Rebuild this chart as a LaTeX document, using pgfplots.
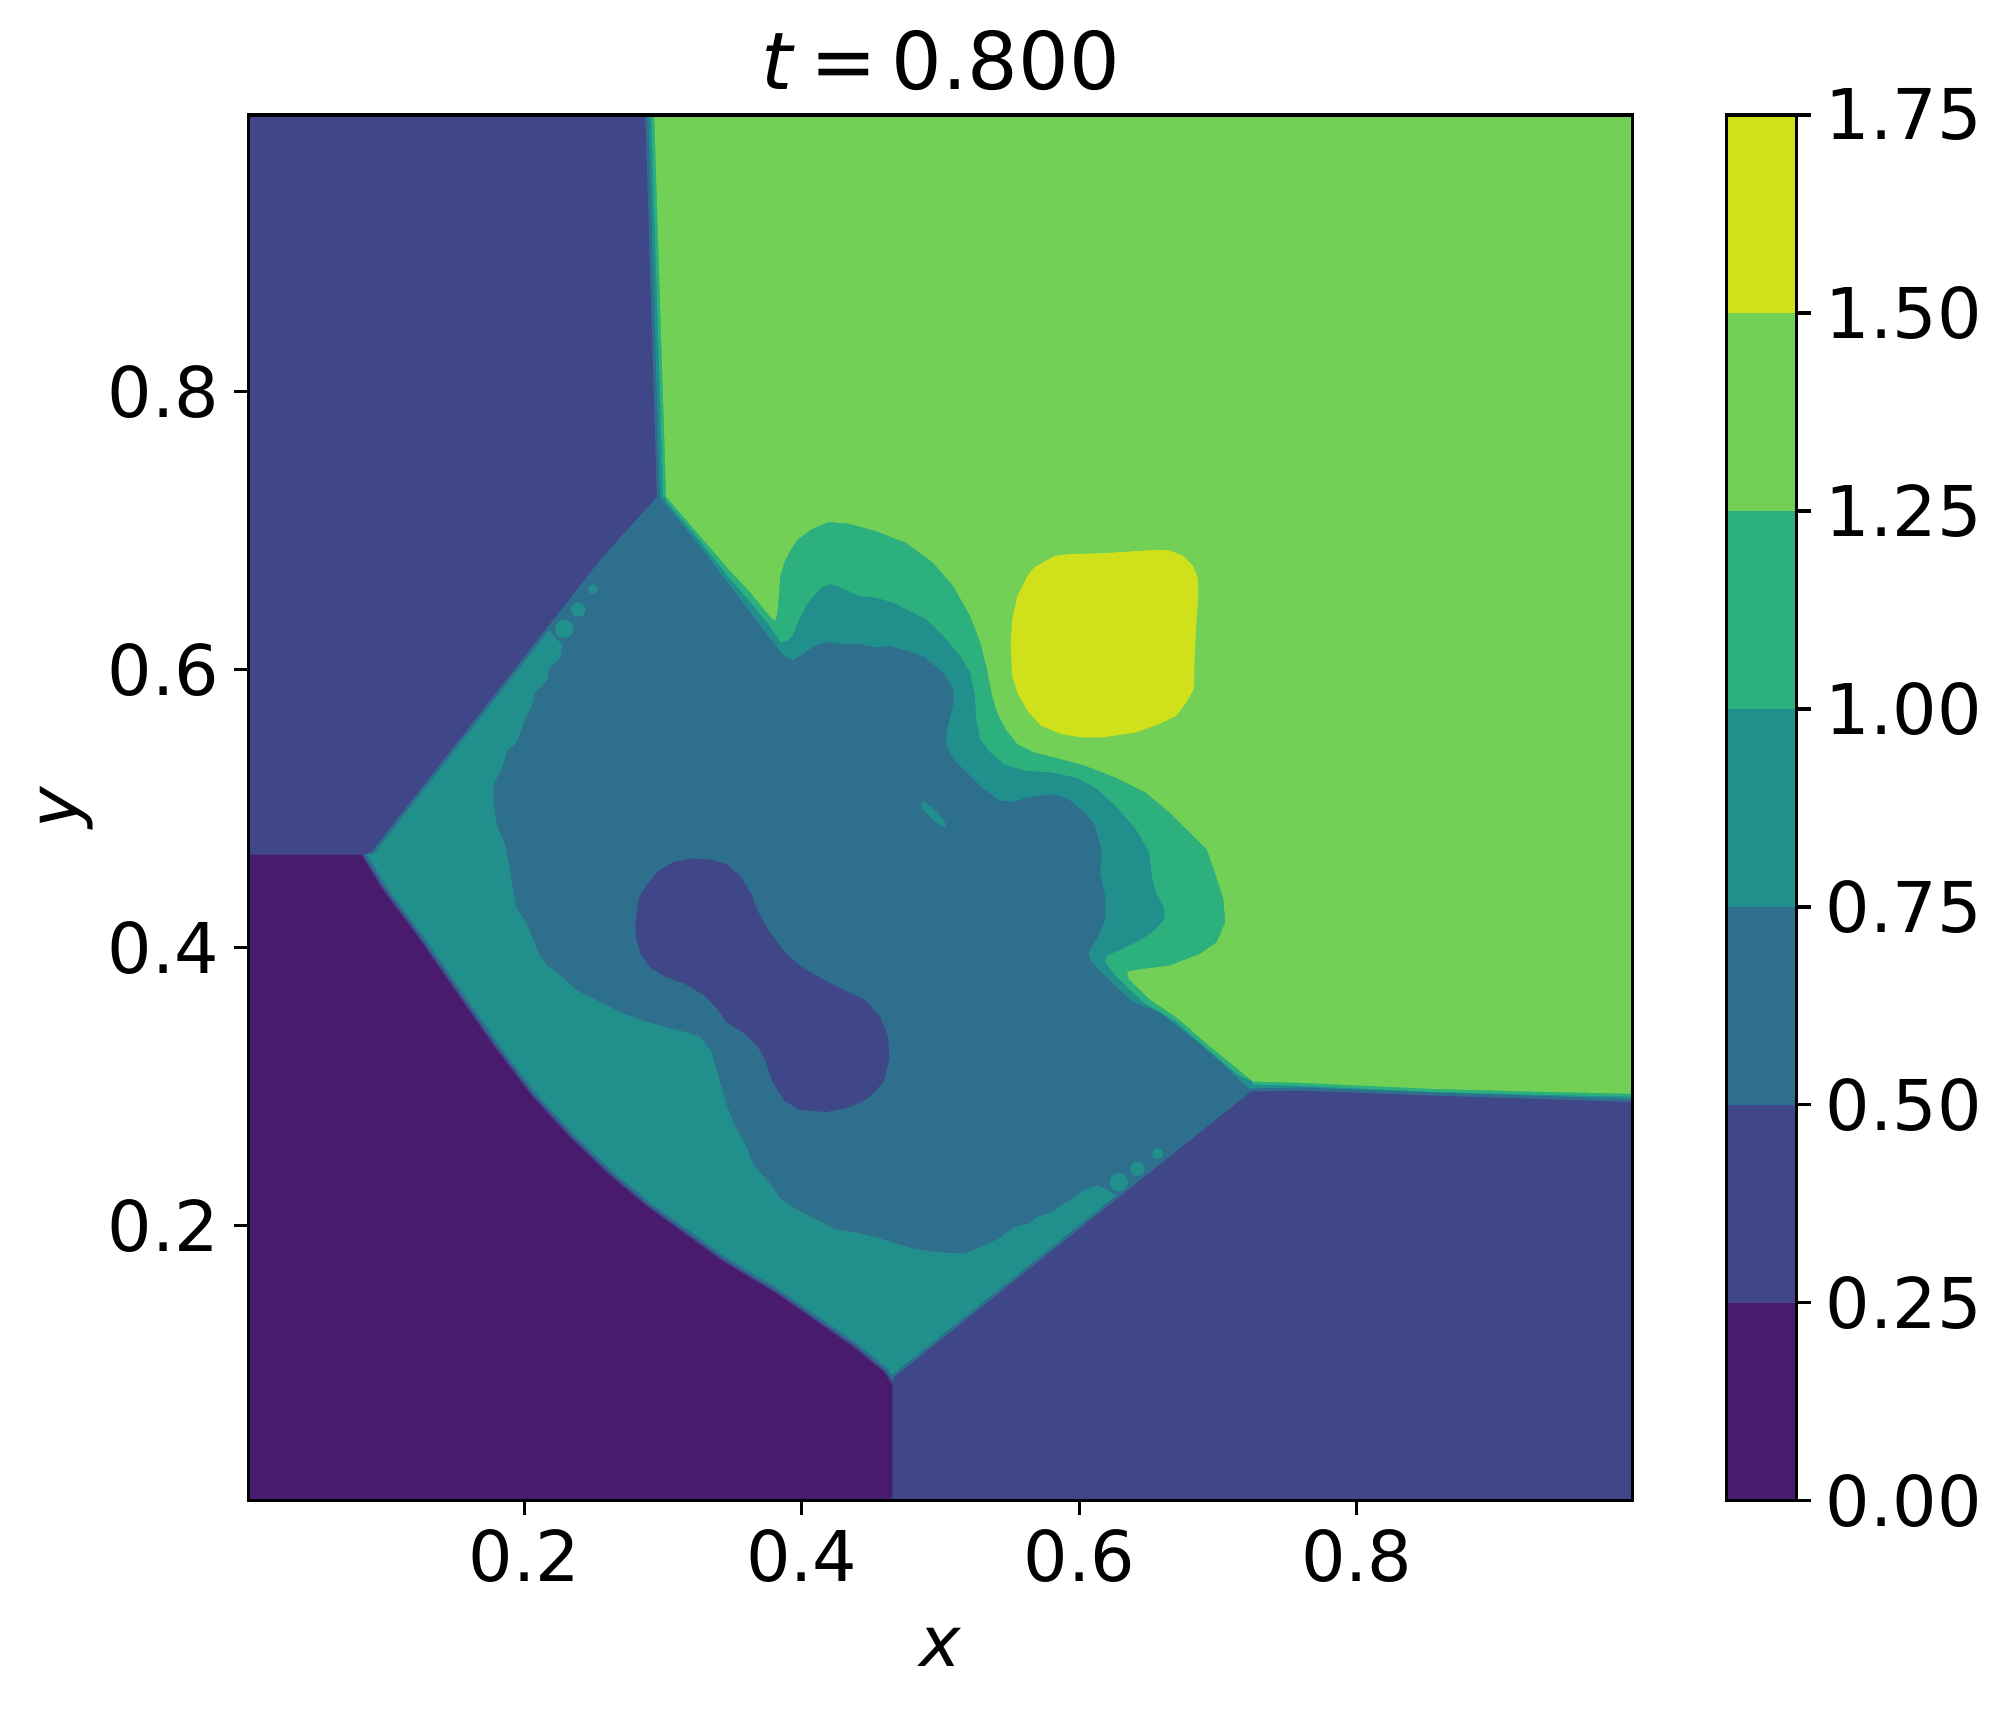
\documentclass[border=0pt]{standalone}
\usepackage{fontspec}
\setmainfont{DejaVu Sans}
\usepackage{pgfplots}
\pgfplotsset{compat=1.18}

% viridis, 7 bands of 0.25
\definecolor{c1}{HTML}{481B6D}
\definecolor{c2}{HTML}{3F4788}
\definecolor{c3}{HTML}{2E6F8E}
\definecolor{c4}{HTML}{21908D}
\definecolor{c5}{HTML}{2CB17E}
\definecolor{c6}{HTML}{73D056}
\definecolor{c7}{HTML}{D0E11C}

\newcommand{\tickfont}{\fontsize{16.8}{20}\selectfont}

\begin{document}
\begin{tikzpicture}
\useasboundingbox (-59.6pt,-49.9pt) rectangle (421.4pt,360.2pt);
\begin{axis}[
    at={(0pt,0pt)}, anchor=south west,
    scale only axis, width=332.3pt, height=332.6pt,
    xmin=0.001, xmax=0.999, ymin=0.002, ymax=0.999,
    xtick={0.2,0.4,0.6,0.8}, ytick={0.2,0.4,0.6,0.8},
    xticklabels={0.2,0.4,0.6,0.8}, yticklabels={0.2,0.4,0.6,0.8},
    tick align=outside, xtick pos=left, ytick pos=left,
    major tick length=3.5pt,
    every tick/.style={black, line width=0.8pt},
    axis line style={line width=0.8pt},
    axis on top,
    tick label style={font=\tickfont},
    /pgf/number format/assume math mode=true,
    xlabel={\textit{x}}, ylabel={\textit{y}},
    label style={font=\tickfont},
    xlabel style={at={(axis description cs:0.5,-0.1197)}, anchor=base},
    ylabel style={at={(axis description cs:-0.1228,0.5)}, anchor=base},
    title={\textit{t}\hspace{0.19em}=\hspace{0.19em}0.800},
    title style={font=\fontsize{19.1}{23}\selectfont, at={(axis description cs:0.5,1.0)}, anchor=base},
]

% background band 0.75-1.00
\addplot[fill=c4, draw=none] coordinates {(0,0) (1,0) (1,1) (0,1)} -- cycle;

% band 1.00-1.25 (swirl)
\addplot[fill=c5, draw=none] coordinates {
(0.3022,0.7243) (0.3287,0.6937) (0.3483,0.6710) (0.3630,0.6554) (0.3727,0.6434)
(0.3788,0.6362) (0.3812,0.6358) (0.3824,0.6410) (0.3837,0.6554) (0.3844,0.6674)
(0.3873,0.6770) (0.3922,0.6866) (0.3971,0.6937) (0.4068,0.7009) (0.4190,0.7062)
(0.4336,0.7050) (0.4531,0.6997) (0.4750,0.6913) (0.4945,0.6770) (0.5091,0.6602)
(0.5213,0.6386) (0.5286,0.6195) (0.5335,0.6003) (0.5372,0.5811) (0.5408,0.5691)
(0.5469,0.5572) (0.5554,0.5464) (0.5676,0.5404) (0.5822,0.5368) (0.6041,0.5308)
(0.6260,0.5224) (0.6479,0.5116) (0.6650,0.4972) (0.6820,0.4805) (0.6917,0.4709)
(0.6978,0.4541) (0.7039,0.4349) (0.7052,0.4182) (0.6991,0.4038) (0.6869,0.3954)
(0.6650,0.3870) (0.6455,0.3846) (0.6345,0.3827) (0.6357,0.3774) (0.6430,0.3702)
(0.6503,0.3631) (0.6714,0.3487) (0.6934,0.3295) (0.7252,0.3036)
(0.50,0.40) (0.30,0.55)} -- cycle;

% band 0.75-1.00 inside the swirl
\addplot[fill=c4, draw=none] coordinates {
(0.2995,0.7243) (0.3255,0.6937) (0.3483,0.6650) (0.3630,0.6482) (0.3751,0.6338)
(0.3824,0.6230) (0.3849,0.6195) (0.3897,0.6207) (0.3934,0.6243) (0.3971,0.6338)
(0.4044,0.6482) (0.4141,0.6590) (0.4214,0.6614) (0.4312,0.6578) (0.4409,0.6530)
(0.4531,0.6518) (0.4653,0.6482) (0.4774,0.6422) (0.4896,0.6362) (0.5018,0.6243)
(0.5140,0.6099) (0.5213,0.5979) (0.5249,0.5811) (0.5257,0.5643) (0.5286,0.5500)
(0.5359,0.5404) (0.5456,0.5320) (0.5602,0.5272) (0.5797,0.5260) (0.5968,0.5224)
(0.6114,0.5152) (0.6260,0.5020) (0.6406,0.4853) (0.6504,0.4685) (0.6528,0.4493)
(0.6552,0.4397) (0.6613,0.4278) (0.6613,0.4206) (0.6552,0.4134) (0.6455,0.4062)
(0.6309,0.3990) (0.6199,0.3942) (0.6187,0.3894) (0.6260,0.3798) (0.6357,0.3702)
(0.6455,0.3611) (0.6697,0.3465) (0.6917,0.3273) (0.7232,0.3010)
(0.50,0.40) (0.30,0.55)} -- cycle;

% band 0.50-0.75, interior
\addplot[fill=c3, draw=none] coordinates {
(0.2975,0.7243) (0.2940,0.7275) (0.2520,0.6810) (0.2150,0.6340) (0.2218,0.6233)
(0.2273,0.6183) (0.2259,0.6084) (0.2176,0.6001) (0.2163,0.5919) (0.2080,0.5836)
(0.2052,0.5737) (0.2011,0.5655) (0.1970,0.5539) (0.1942,0.5473) (0.1873,0.5407)
(0.1832,0.5275) (0.1777,0.5176) (0.1777,0.5044) (0.1804,0.4879) (0.1859,0.4747)
(0.1887,0.4615) (0.1914,0.4450) (0.1942,0.4285) (0.2011,0.4186) (0.2052,0.4087)
(0.2107,0.3955) (0.2163,0.3872) (0.2273,0.3790) (0.2383,0.3691) (0.2549,0.3608)
(0.2714,0.3526) (0.2852,0.3476) (0.3017,0.3427) (0.3155,0.3394) (0.3265,0.3361)
(0.3350,0.3247) (0.3405,0.3055) (0.3460,0.2864) (0.3516,0.2720) (0.3598,0.2576)
(0.3653,0.2432) (0.3764,0.2312) (0.3846,0.2193) (0.3957,0.2121) (0.4094,0.2049)
(0.4232,0.1977) (0.4370,0.1953) (0.4536,0.1917) (0.4646,0.1881) (0.4811,0.1833)
(0.4977,0.1809) (0.5170,0.1797) (0.5253,0.1833) (0.5418,0.1905) (0.5528,0.1989)
(0.5639,0.2013) (0.5694,0.2061) (0.5804,0.2097) (0.5887,0.2157) (0.5969,0.2205)
(0.6052,0.2265) (0.6135,0.2289) (0.6190,0.2265) (0.6250,0.2225) (0.6330,0.2200)
(0.7250,0.2950) (0.7225,0.2985) (0.7183,0.3019) (0.7072,0.3127) (0.6852,0.3319)
(0.6576,0.3535) (0.6382,0.3611) (0.6284,0.3702) (0.6187,0.3798) (0.6089,0.3894)
(0.6065,0.3966) (0.6126,0.4062) (0.6187,0.4206) (0.6187,0.4373) (0.6150,0.4541)
(0.6163,0.4685) (0.6138,0.4781) (0.6114,0.4877) (0.6041,0.4973) (0.5919,0.5068)
(0.5822,0.5104) (0.5627,0.5080) (0.5529,0.5049) (0.5432,0.5056) (0.5310,0.5140)
(0.5188,0.5260) (0.5091,0.5356) (0.5042,0.5452) (0.5042,0.5524) (0.5054,0.5596)
(0.5079,0.5691) (0.5096,0.5787) (0.5091,0.5859) (0.5018,0.5979) (0.4945,0.6039)
(0.4872,0.6099) (0.4750,0.6135) (0.4628,0.6171) (0.4531,0.6159) (0.4409,0.6183)
(0.4287,0.6183) (0.4190,0.6199) (0.4092,0.6171) (0.4007,0.6111) (0.3934,0.6063)
(0.3873,0.6099) (0.3776,0.6218) (0.3630,0.6410) (0.3483,0.6602) (0.3226,0.6937)
} -- cycle;

% band 0.25-0.50, dumbbell
\addplot[fill=c2, draw=none] coordinates {
(0.2797,0.4153) (0.2824,0.4351) (0.2879,0.4450) (0.2962,0.4549) (0.3072,0.4615)
(0.3210,0.4642) (0.3348,0.4632) (0.3459,0.4599) (0.3555,0.4516) (0.3638,0.4384)
(0.3679,0.4269) (0.3762,0.4120) (0.3872,0.3972) (0.3982,0.3873) (0.4148,0.3774)
(0.4313,0.3691) (0.4451,0.3625) (0.4561,0.3509) (0.4622,0.3361) (0.4630,0.3196)
(0.4589,0.3031) (0.4478,0.2915) (0.4341,0.2849) (0.4175,0.2816) (0.3982,0.2833)
(0.3872,0.2899) (0.3789,0.3031) (0.3734,0.3196) (0.3679,0.3295) (0.3569,0.3394)
(0.3459,0.3460) (0.3390,0.3559) (0.3293,0.3658) (0.3155,0.3740) (0.3017,0.3790)
(0.2907,0.3856) (0.2838,0.3955) (0.2810,0.4054)} -- cycle;

% small islands of 0.75-1.00
\addplot[fill=c4, draw=none] coordinates {
(0.4859,0.5044) (0.4885,0.5050) (0.4960,0.4990) (0.5030,0.4905) (0.5042,0.4864)
(0.5020,0.4865) (0.4940,0.4925) (0.4870,0.5000)} -- cycle;
\addplot[only marks, mark=*, mark size=0.95pt, color=c4] coordinates {(0.2493,0.6579)};
\addplot[only marks, mark=*, mark size=1.5pt, color=c4] coordinates {(0.2389,0.6431) (0.6419,0.2408)};
\addplot[only marks, mark=*, mark size=2.0pt, color=c4] coordinates {(0.2287,0.6292) (0.6286,0.2312)};
\addplot[only marks, mark=*, mark size=1.1pt, color=c4] coordinates {(0.6565,0.2516)};

% thin transition bands along the shocks
\addplot[c5, line width=1.44pt, line join=round] coordinates {(0.2936,1.0) (0.3022,0.7243)};
\addplot[c5, line width=1.44pt, line join=round] coordinates {
(0.7252,0.3036) (0.7590,0.3027) (0.8550,0.2983) (0.9271,0.2964) (1.0,0.2948)};
\addplot[c3, line width=1.5pt, line join=round] coordinates {
(0.2871,1.0) (0.2955,0.7243) (0.2547,0.6790) (0.0889,0.4679)};
\addplot[c3, line width=1.5pt, line join=round] coordinates {
(0.4654,0.0899) (0.7238,0.2964) (0.7590,0.2971) (0.8550,0.2935) (0.9271,0.2912) (1.0,0.2888)};
\addplot[c3, line width=2.4pt, line join=round] coordinates {
(0.0825,0.4666) (0.0977,0.4417) (0.1225,0.4087) (0.1501,0.3691) (0.1777,0.3295)
(0.2053,0.2932) (0.2328,0.2635) (0.2604,0.2371) (0.2880,0.2140) (0.3155,0.1942)
(0.3431,0.1743) (0.3818,0.1510) (0.4094,0.1318) (0.4370,0.1127) (0.4591,0.0947) (0.4654,0.0851)};
\addplot[c2, line width=0.96pt, line join=round] coordinates {
(0.0825,0.4666) (0.0977,0.4417) (0.1225,0.4087) (0.1501,0.3691) (0.1777,0.3295)
(0.2053,0.2932) (0.2328,0.2635) (0.2604,0.2371) (0.2880,0.2140) (0.3155,0.1942)
(0.3431,0.1743) (0.3818,0.1510) (0.4094,0.1318) (0.4370,0.1127) (0.4591,0.0947) (0.4654,0.0851)};

% band 1.25-1.50, upper right
\addplot[fill=c6, draw=none] coordinates {
(0.2936,1.0) (0.3022,0.7243) (0.3287,0.6937) (0.3483,0.6710) (0.3630,0.6554) (0.3727,0.6434)
(0.3788,0.6362) (0.3812,0.6358) (0.3824,0.6410) (0.3837,0.6554) (0.3844,0.6674)
(0.3873,0.6770) (0.3922,0.6866) (0.3971,0.6937) (0.4068,0.7009) (0.4190,0.7062)
(0.4336,0.7050) (0.4531,0.6997) (0.4750,0.6913) (0.4945,0.6770) (0.5091,0.6602)
(0.5213,0.6386) (0.5286,0.6195) (0.5335,0.6003) (0.5372,0.5811) (0.5408,0.5691)
(0.5469,0.5572) (0.5554,0.5464) (0.5676,0.5404) (0.5822,0.5368) (0.6041,0.5308)
(0.6260,0.5224) (0.6479,0.5116) (0.6650,0.4972) (0.6820,0.4805) (0.6917,0.4709)
(0.6978,0.4541) (0.7039,0.4349) (0.7052,0.4182) (0.6991,0.4038) (0.6869,0.3954)
(0.6650,0.3870) (0.6455,0.3846) (0.6345,0.3827) (0.6357,0.3774) (0.6430,0.3702)
(0.6503,0.3631) (0.6714,0.3487) (0.6934,0.3295) (0.7252,0.3036)
(0.7590,0.3027) (0.8550,0.2983) (0.9271,0.2964) (1.0,0.2948) (1.0,1.0)} -- cycle;

% band 1.50-1.75
\addplot[fill=c7, draw=none] coordinates {
(0.5505,0.6171) (0.5517,0.6362) (0.5554,0.6530) (0.5627,0.6674) (0.5676,0.6734)
(0.5822,0.6818) (0.5919,0.6830) (0.6163,0.6837) (0.6309,0.6846) (0.6552,0.6861)
(0.6650,0.6858) (0.6747,0.6818) (0.6820,0.6746) (0.6857,0.6650) (0.6857,0.6530)
(0.6844,0.6338) (0.6832,0.6099) (0.6825,0.5859) (0.6771,0.5763) (0.6698,0.5667)
(0.6576,0.5608) (0.6406,0.5547) (0.6163,0.5512) (0.6017,0.5512) (0.5870,0.5536)
(0.5724,0.5596) (0.5627,0.5703) (0.5554,0.5835) (0.5517,0.5955)} -- cycle;

% band 0.25-0.50, upper left and lower right
\addplot[fill=c2, draw=none] coordinates {
(0,1) (0.2871,1) (0.2955,0.7243) (0.2547,0.6790) (0.0889,0.4679) (0.0825,0.4666) (0,0.4666)} -- cycle;
\addplot[fill=c2, draw=none] coordinates {
(0.4654,0) (0.4654,0.0899) (0.7238,0.2964) (0.7590,0.2971) (0.8550,0.2935)
(0.9271,0.2912) (1.0,0.2888) (1.0,0)} -- cycle;

% band 0.00-0.25, lower left
\addplot[fill=c1, draw=none] coordinates {
(0,0) (0,0.4666) (0.0825,0.4666) (0.0977,0.4417) (0.1225,0.4087) (0.1501,0.3691)
(0.1777,0.3295) (0.2053,0.2932) (0.2328,0.2635) (0.2604,0.2371) (0.2880,0.2140)
(0.3155,0.1942) (0.3431,0.1743) (0.3818,0.1510) (0.4094,0.1318) (0.4370,0.1127)
(0.4591,0.0947) (0.4654,0.0851) (0.4654,0)} -- cycle;
\end{axis}

% colour bar
\begin{axis}[
    at={(354.8pt,0pt)}, anchor=south west,
    scale only axis, width=16.8pt, height=332.6pt,
    xmin=0, xmax=1, ymin=0, ymax=1.75,
    xtick=\empty,
    ytick={0,0.25,0.5,0.75,1,1.25,1.5,1.75},
    yticklabels={0.00,0.25,0.50,0.75,1.00,1.25,1.50,1.75},
    ytick pos=right, yticklabel pos=right,
    tick align=outside, major tick length=3.5pt,
    every tick/.style={black, line width=0.8pt},
    axis line style={line width=0.8pt},
    axis on top,
    tick label style={font=\tickfont},
    /pgf/number format/assume math mode=true,
]
\addplot[fill=c1, draw=none] coordinates {(0,0) (1,0) (1,0.25) (0,0.25)} -- cycle;
\addplot[fill=c2, draw=none] coordinates {(0,0.25) (1,0.25) (1,0.5) (0,0.5)} -- cycle;
\addplot[fill=c3, draw=none] coordinates {(0,0.5) (1,0.5) (1,0.75) (0,0.75)} -- cycle;
\addplot[fill=c4, draw=none] coordinates {(0,0.75) (1,0.75) (1,1) (0,1)} -- cycle;
\addplot[fill=c5, draw=none] coordinates {(0,1) (1,1) (1,1.25) (0,1.25)} -- cycle;
\addplot[fill=c6, draw=none] coordinates {(0,1.25) (1,1.25) (1,1.5) (0,1.5)} -- cycle;
\addplot[fill=c7, draw=none] coordinates {(0,1.5) (1,1.5) (1,1.75) (0,1.75)} -- cycle;
\end{axis}
\end{tikzpicture}
\end{document}
